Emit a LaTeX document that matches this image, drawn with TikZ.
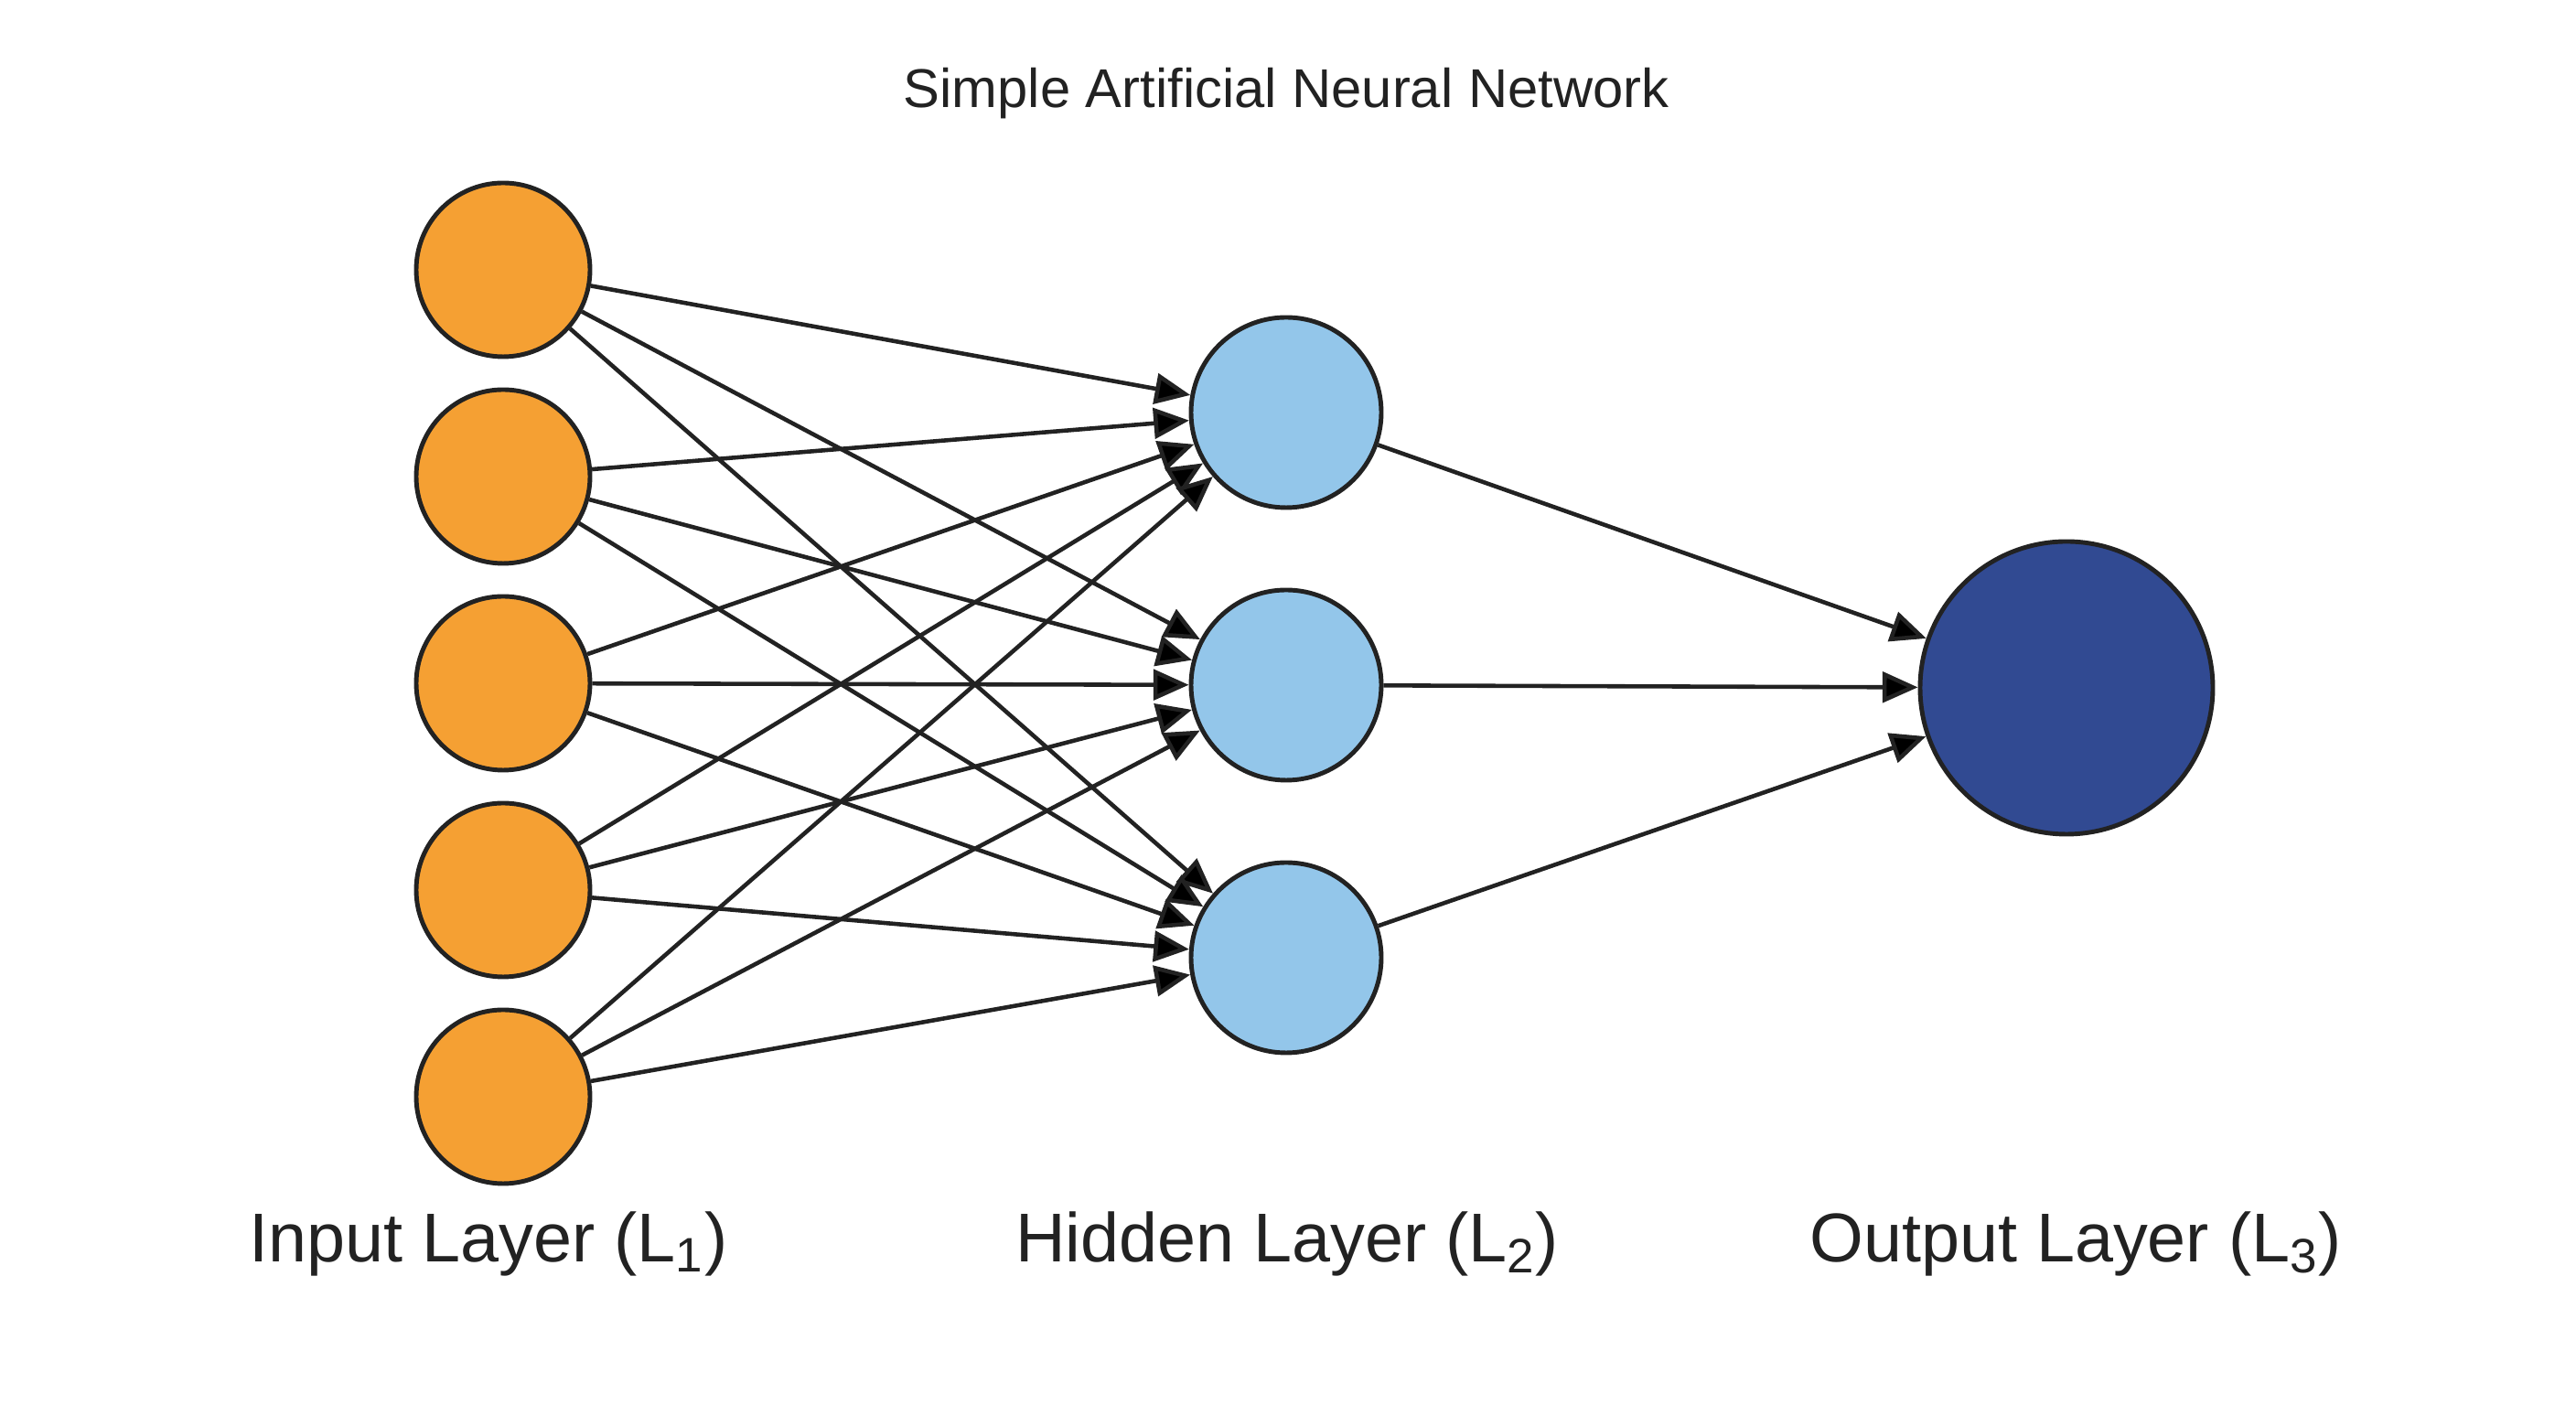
\documentclass[tikz,border=0pt]{standalone}
\usepackage{fontspec}
\setmainfont{Liberation Sans}
\usepackage{tikz}
\usetikzlibrary{shapes.geometric, arrows.meta, positioning}
\definecolor{inorange}{HTML}{F5A033}
\definecolor{hidblue}{HTML}{93C6EA}
\definecolor{outblue}{HTML}{314A92}
\definecolor{inkgray}{HTML}{222222}
\tikzstyle{inputneuron} = [circle,
minimum size=1.9cm,
line width=1.4pt,
draw=inkgray,
fill=inorange]
\tikzstyle{hiddenneuron} = [circle,
minimum size=2.08cm,
line width=1.4pt,
draw=inkgray,
fill=hidblue]
\tikzstyle{outputneuron} = [circle,
minimum size=3.2cm,
line width=1.4pt,
draw=inkgray,
fill=outblue]
\tikzstyle{layerlabel} = [text=inkgray, font=\fontsize{21.5}{24}\selectfont]
\tikzstyle{arrow} = [line width=1.3pt, draw=inkgray, -{Triangle[length=11pt, width=9.5pt]}]

\begin{document}
\begin{tikzpicture}[node distance=2.26cm]
			\useasboundingbox (0,0) rectangle (28.16,15.36);
			\node (title) [text=inkgray, font=\fontsize{17}{20}\selectfont] at (14.06,14.34) {Simple Artificial Neural Network};

			\node (in1) [inputneuron] at (5.5,12.41) {};
			\node (in2) [inputneuron, below of=in1] {};
			\node (in3) [inputneuron, below of=in2] {};
			\node (in4) [inputneuron, below of=in3] {};
			\node (in5) [inputneuron, below of=in4] {};

			\node (hid1) [hiddenneuron] at (14.06,10.85) {};
			\node (hid2) [hiddenneuron, below of=hid1, node distance=2.98cm] {};
			\node (hid3) [hiddenneuron, below of=hid2, node distance=2.98cm] {};

			\node (out) [outputneuron] at (22.59,7.84) {};

			\node (inlabel) [layerlabel] at (5.34,1.76) {Input Layer (L\textsubscript{1})};
			\node (hidlabel) [layerlabel] at (14.07,1.76) {Hidden Layer (L\textsubscript{2})};
			\node (outlabel) [layerlabel] at (22.69,1.76) {Output Layer (L\textsubscript{3})};

			\draw[arrow] (in1) edge (hid1)
							(in1) edge (hid2)
							(in1) edge (hid3)
							(in2) edge (hid1)
							(in2) edge (hid2)
							(in2) edge (hid3)
							(in3) edge (hid1)
							(in3) edge (hid2)
							(in3) edge (hid3)
							(in4) edge (hid1)
							(in4) edge (hid2)
							(in4) edge (hid3)
							(in5) edge (hid1)
							(in5) edge (hid2)
							(in5) edge (hid3)
							(hid1) edge (out)
							(hid2) edge (out)
							(hid3) edge (out);
		\end{tikzpicture}
\end{document}
